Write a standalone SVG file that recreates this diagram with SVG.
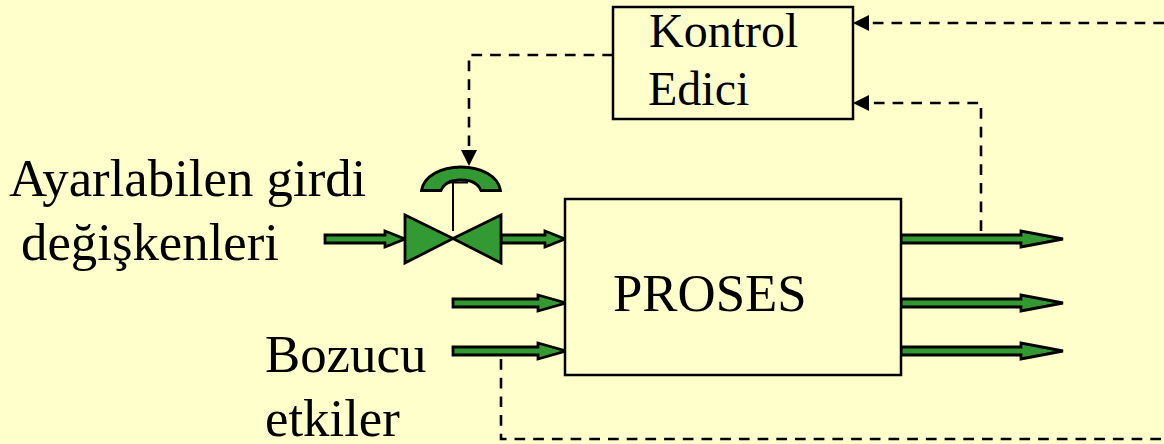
<svg xmlns="http://www.w3.org/2000/svg" width="1164" height="444" viewBox="0 0 1164 444">
<defs>
<style>
text{font-family:"Liberation Serif","Times New Roman",serif;fill:#000;font-size:52.800px}
.small{font-size:48px}
.box{fill:#ffffcc;stroke:#000;stroke-width:2.500}
.arr{fill:#339933;stroke:#000;stroke-width:2.800;stroke-linejoin:miter}
.dash{fill:none;stroke:#000;stroke-width:2.600;stroke-dasharray:10.700 8}
.head{fill:#000;stroke:none}
</style>
</defs>
<rect width="1164" height="444" fill="#ffffcc"/>
<g id="connectors">
<path class="arr" d="M325 235H385V231L405 239L385 247V243H325Z"/>
<path class="arr" d="M501 235H545V231L565 239L545 247V243H501Z"/>
<path class="arr" d="M453 299H538V295L566 303L538 311V307H453Z"/>
<path class="arr" d="M453 347H538V343L566 351L538 359V355H453Z"/>
<path class="arr" d="M901 235H1021V231L1063 239L1021 247V243H901Z"/>
<path class="arr" d="M901 299H1021V295L1063 303L1021 311V307H901Z"/>
<path class="arr" d="M901 347H1021V343L1063 351L1021 359V355H901Z"/>
<path class="dash" d="M613 55H469V150"/>
<path class="head" d="M461 150H477L469 166Z"/>
<path class="dash" d="M981 231V103H870"/>
<path class="head" d="M869 95V111L853 103Z"/>
<path class="dash" d="M1164 23H870"/>
<path class="dash" d="M501 359V439H1164"/>
<path class="head" d="M869 15V31L853 23Z"/>
</g>
<g id="controller">
<rect class="box" x="613" y="7" width="240" height="112"/>
<text class="small" x="649" y="47">Kontrol</text>
<text class="small" x="648" y="104.500">Edici</text>
</g>
<g id="valve">
<path class="arr" d="M421.500 190.500C424 176 441 167 461 167C481 167 498 176 500.500 190.500H481C478 183 471 180 461 180C451 180 444 183 441 190.500Z"/>
<path fill="none" stroke="#000" stroke-width="2" d="M453 231V182.500M449 182.500H468"/>
<path class="arr" d="M405 215V263L453 238.500L501 263V215L453 238.500Z"/>
</g>
<g id="process">
<rect class="box" x="565" y="199" width="336" height="176"/>
<text x="613" y="311">PROSES</text>
</g>
<g id="input-label">
<text x="9" y="196">Ayarlabilen girdi</text>
<text x="21" y="260">değişkenleri</text>
</g>
<g id="disturbance-label">
<text x="265" y="372">Bozucu</text>
<text x="265" y="436">etkiler</text>
</g>
</svg>
